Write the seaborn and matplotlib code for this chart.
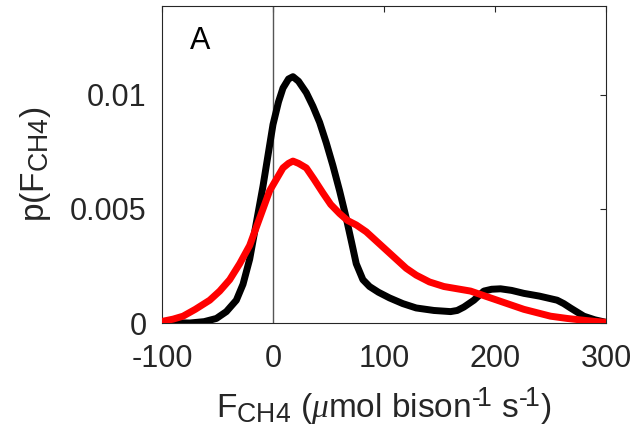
import numpy as np
import pandas as pd
import matplotlib
matplotlib.use('Agg')
import matplotlib.pyplot as plt
import matplotlib._mathtext as mathtext_mod
import seaborn as sns

# Curvas de densidad
flux_black = [-100, -85, -75, -62, -51, -42, -33, -27, -21, -15, -9, -4, 0, 5, 9, 14, 18, 23, 30, 36,
              42, 48, 54, 60, 66, 71, 75, 81, 87, 95, 105, 117, 129, 145, 160, 166, 172, 181, 190, 197,
              205, 215, 226, 240, 256, 262, 268, 274, 280, 290, 300]
dens_black = [0.00005, 0.00001, 0.0, 0.00006, 0.0002, 0.0005, 0.001, 0.0017, 0.0028, 0.0044, 0.006, 0.0075,
              0.0087, 0.0097, 0.0103, 0.0107, 0.0108, 0.0106, 0.0101, 0.0095,
              0.0088, 0.0079, 0.0069, 0.0058, 0.0046, 0.0035, 0.0026, 0.0019, 0.0016, 0.00135, 0.0011,
              0.00085, 0.00066, 0.00055, 0.0005, 0.00055, 0.0007, 0.001, 0.0014, 0.00148,
              0.0015, 0.00143, 0.0013, 0.00118, 0.001, 0.00085, 0.00066, 0.00048, 0.0003, 0.00014, 0.00003]

flux_red = [-100, -90, -81, -70, -57, -48, -39, -30, -21, -15, -9, -3, 3, 9, 14, 18, 23, 30, 37, 45,
            52, 60, 67, 75, 84, 93, 102, 111, 120, 129, 141, 154, 166, 178, 190, 202, 214, 226, 238,
            250, 265, 280, 290, 300]
dens_red = [0.00007, 0.00017, 0.0003, 0.0006, 0.001, 0.0014, 0.0019, 0.0026, 0.0034, 0.0042, 0.005, 0.0058,
            0.0063, 0.0068, 0.007, 0.0071, 0.007, 0.0068, 0.0063, 0.0057,
            0.0052, 0.0048, 0.0045, 0.0043, 0.004, 0.0036, 0.0032, 0.0028, 0.0024, 0.0021, 0.0018,
            0.0016, 0.0015, 0.0014, 0.0012, 0.001, 0.0008, 0.0006, 0.00045,
            0.0003, 0.0002, 0.00012, 0.00007, 0.00003]

xticks = [-100, 0, 100, 200, 300]
yticks = [0, 0.005, 0.01]
ytick_labels = ['0', '0.005', '0.01']

sns.set_style('white')
plt.rcParams['font.family'] = ['Liberation Sans', 'DejaVu Sans']
plt.rcParams['mathtext.fontset'] = 'custom'
plt.rcParams['mathtext.rm'] = 'Liberation Sans'
plt.rcParams['mathtext.it'] = 'Liberation Serif:italic'
plt.rcParams['mathtext.sf'] = 'Liberation Sans'
# subindices mas grandes, como en el original
mathtext_mod.SHRINK_FACTOR = 0.8

black = pd.DataFrame({'flux': flux_black, 'dens': dens_black})
red = pd.DataFrame({'flux': flux_red, 'dens': dens_red})

fig = plt.figure(figsize=(6.37, 4.44), dpi=100)
ax = fig.add_axes([0.2543, 0.2725, 0.6970, 0.7140])

ax.axvline(0, color='#555555', lw=1.0, zorder=1)
sns.lineplot(data=black, x='flux', y='dens', color='black', lw=5, estimator=None, ax=ax, zorder=3)
sns.lineplot(data=red, x='flux', y='dens', color='#ff0000', lw=5, estimator=None, ax=ax, zorder=4)

ax.set_xlim(-100, 300)
ax.set_ylim(0, 0.0139)
ax.set_xticks(xticks)
ax.set_xticklabels([str(t) for t in xticks])
ax.set_yticks(yticks)
ax.set_yticklabels(ytick_labels)
ax.tick_params(direction='in', length=4, width=0.8, colors='#262626', labelsize=22,
               top=True, right=True, labelcolor='#262626')
ax.tick_params(axis='x', pad=15)
ax.tick_params(axis='y', pad=11)
for s in ax.spines.values():
    s.set_visible(True)
    s.set_color('#262626')
    s.set_linewidth(0.8)

ax.set_xlabel('F$_{\\mathrm{CH4}}$ ($\\mu$mol bison$^{\\mathrm{\u2010}\\!\\mathrm{1}}$ s$^{\\mathrm{\u2010}\\!\\mathrm{1}}$)',
              fontsize=24, color='#262626', labelpad=8)
ax.set_ylabel('p(F$_{\\mathrm{CH4}}$)', fontsize=24, color='#262626', labelpad=12)
ax.text(0.063, 0.89, 'A', transform=ax.transAxes, fontsize=22, va='center', ha='left', color='black')

plt.savefig('out.png', dpi=100)
